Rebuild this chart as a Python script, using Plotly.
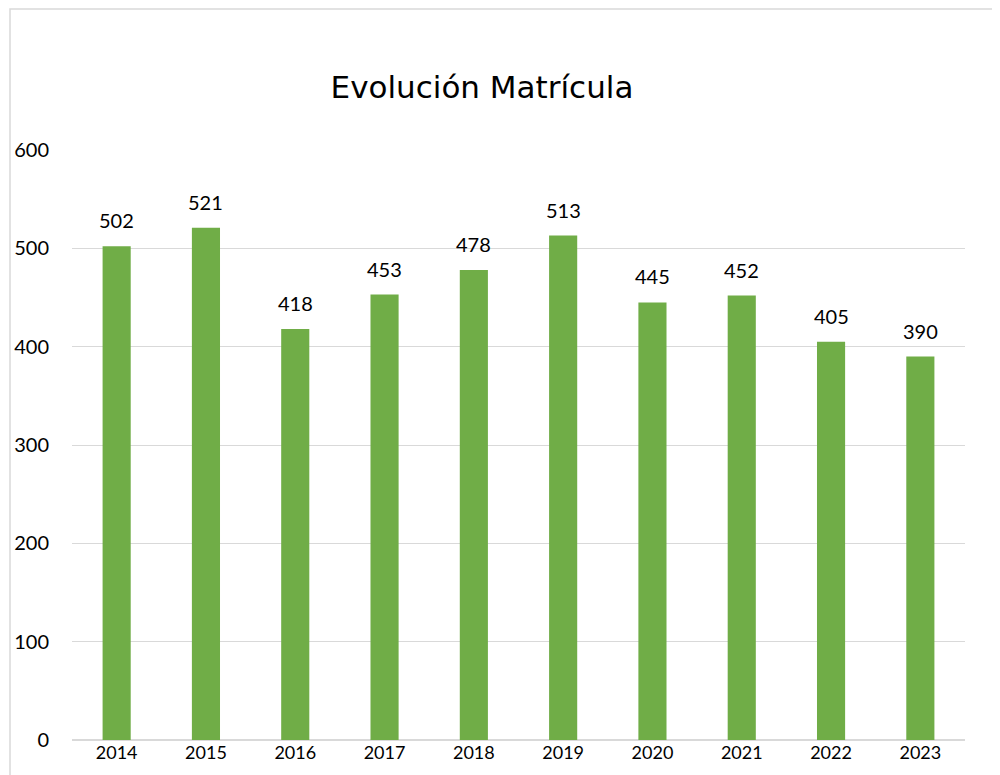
import plotly.graph_objects as go

years = ["2014", "2015", "2016", "2017", "2018", "2019", "2020", "2021", "2022", "2023"]
enrollment = [502, 521, 418, 453, 478, 513, 445, 452, 405, 390]
y_ticks = [0, 100, 200, 300, 400, 500, 600]
title_text = "Evolución Matrícula"

# page body has an 8px offset; compensate
OFF = 8
W, H = 1000, 775
L, R, T = 72 - OFF, 1000 - 965 + OFF, 150 - OFF
B = H - (740 - OFF)
pw, ph = W - L - R, H - T - B

fig = go.Figure(go.Bar(
    x=years, y=enrollment,
    marker=dict(color="#70AD47", line=dict(width=0)),
    cliponaxis=False,
    hoverinfo="x+y",
))

# data labels: on a category axis, annotation x is the category index
for i, v in enumerate(enrollment):
    fig.add_annotation(x=i, y=v, xref="x", yref="y", text=str(v), showarrow=False,
                       yanchor="middle", yshift=26,
                       font=dict(family="Lato, Noto Sans, sans-serif", size=20, color="#000000"))

fig.update_layout(
    width=W, height=H,
    margin=dict(l=L, r=R, t=T, b=B, autoexpand=False),
    paper_bgcolor="white", plot_bgcolor="white",
    bargap=0.685,
    showlegend=False,
    title=dict(text=title_text, x=(482 - OFF) / W, xanchor="center", y=1 - (87 - OFF) / H, yanchor="middle",
               font=dict(family="DejaVu Sans, sans-serif", size=31, color="#000000")),
    xaxis=dict(type="category", categoryorder="array", categoryarray=years,
               range=[-0.5, len(years) - 0.5],
               showgrid=False, showline=False, ticks="", ticklabelstandoff=0,
               tickfont=dict(family="Lato, Noto Sans, sans-serif", size=18, color="#000000")),
    yaxis=dict(range=[0, 600], tickvals=y_ticks, showgrid=True, gridcolor="#d9d9d9", gridwidth=1,
               zeroline=True, zerolinecolor="#d9d9d9", zerolinewidth=1.5, showline=False, ticks="",
               ticklabelstandoff=22,
               tickfont=dict(family="Lato, Noto Sans, sans-serif", size=20, color="#000000")),
)

# outer chart border (top and left visible)
fig.add_shape(type="rect", xref="paper", yref="paper",
              x0=(10 - OFF - L) / pw, x1=(W + 20 - L) / pw,
              y0=-(B + 20) / ph, y1=(T + ph - (8.5 - OFF) - 0.5) / ph,
              line=dict(color="#d9d9d9", width=1.5), fillcolor="rgba(0,0,0,0)", layer="below")

fig.write_html("out.html")
